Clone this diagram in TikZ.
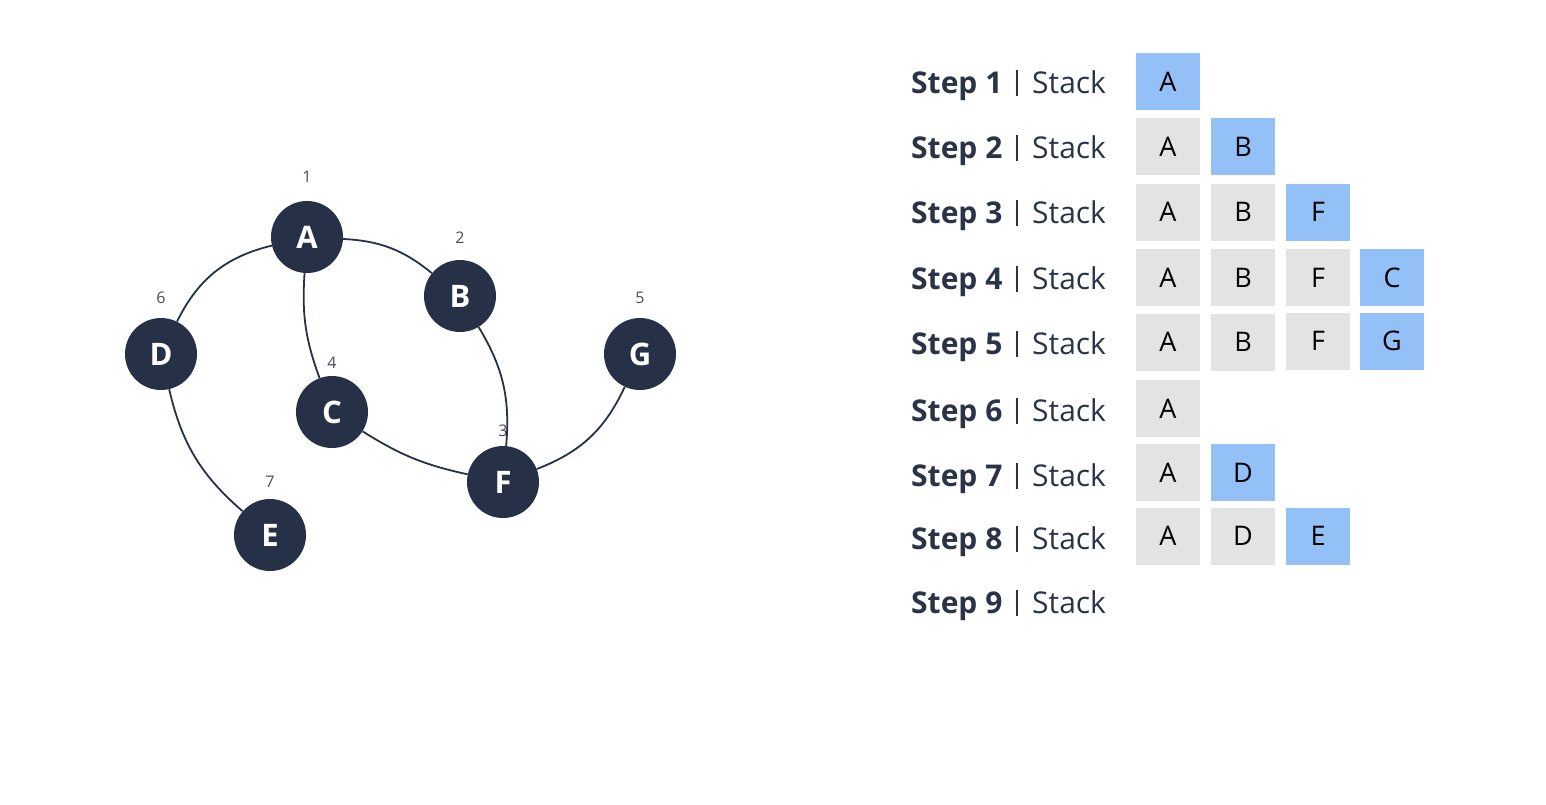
\documentclass[tikz,border=0pt]{standalone}
\usepackage{fontspec}
\setmainfont{Open Sans}
\definecolor{navy}{HTML}{263147}
\definecolor{txt}{HTML}{2B3447}
\definecolor{numc}{HTML}{4A4F5A}
\definecolor{hl}{HTML}{93C0F7}
\definecolor{cell}{HTML}{E3E3E3}
\begin{document}
\begin{tikzpicture}[x=1pt,y=-1pt,
  vert/.style={circle,fill=navy,minimum size=72pt,inner sep=0pt,text=white,font=\fontsize{31}{31}\selectfont\bfseries},
  num/.style={text=numc,font=\fontsize{16}{16}\selectfont,inner sep=0pt},
  edge/.style={draw=navy,line width=1.8pt},
  lab/.style={anchor=base west,text=txt,font=\fontsize{30}{31}\selectfont,inner sep=0pt},
  barline/.style={draw=txt,line width=2.4pt},
  cellbox/.style={minimum width=64pt,minimum height=57pt,inner sep=0pt,fill=cell,font=\fontsize{27}{27}\selectfont,text=black},
  hlbox/.style={cellbox,fill=hl}]
\fill[white] (0,0) rectangle (1546,804);
\useasboundingbox (0,0) rectangle (1546,804);

% graph vertices
\node[vert] (A) at (307,237) {A};
\node[vert] (B) at (460,296) {B};
\node[vert] (D) at (161,354) {D};
\node[vert] (G) at (640,354) {G};
\node[vert] (C) at (332,412) {C};
\node[vert] (F) at (503,482) {F};
\node[vert] (E) at (270,535) {E};

% order numbers
\node[num] (nA) at (307,177) {1};
\node[num] (nB) at (460,238) {2};
\node[num] (nF) at (503,431) {3};
\node[num] (nC) at (332,363) {4};
\node[num] (nG) at (640,298) {5};
\node[num] (nD) at (161,298) {6};
\node[num] (nE) at (270,482) {7};

% edges
\draw[edge] (A) to[bend right=25] (D);
\draw[edge] (A) to[bend right=12] (C);
\draw[edge] (A) to[bend left=18] (B);
\draw[edge] (B) to[bend left=18] (F);
\draw[edge] (C) to[bend right=10] (F);
\draw[edge] (G) to[bend left=22] (F);
\draw[edge] (D) to[bend right=18] (E);

% step labels
\foreach \n/\y in {1/82,2/147,3/212,4/278,5/343,6/410,7/475,8/538,9/602}{
  \node[lab,font=\fontsize{30}{31}\selectfont\bfseries] (step\n) at (911,\y+11) {Step \n};
  \coordinate (bt\n) at (1017,\y-12);
  \coordinate (bb\n) at (1017,\y+14);
  \draw[barline] (bt\n) -- (bb\n);
  \node[lab] (stack\n) at (1032,\y+11) {Stack};
}

% stack cells
\node[hlbox]   (s1a) at (1168,81.5) {A};

\node[cellbox] (s2a) at (1168,146.5) {A};
\node[hlbox]   (s2b) at (1243,146.5) {B};

\node[cellbox] (s3a) at (1168,212) {A};
\node[cellbox] (s3b) at (1243,212) {B};
\node[hlbox]   (s3c) at (1318,212) {F};

\node[cellbox] (s4a) at (1168,277.5) {A};
\node[cellbox] (s4b) at (1243,277.5) {B};
\node[cellbox] (s4c) at (1318,277.5) {F};
\node[hlbox]   (s4d) at (1392,277.5) {C};

\node[cellbox] (s5a) at (1168,342) {A};
\node[cellbox] (s5b) at (1243,342) {B};
\node[cellbox] (s5c) at (1318,341) {F};
\node[hlbox]   (s5d) at (1392,341) {G};

\node[cellbox] (s6a) at (1168,408.5) {A};

\node[cellbox] (s7a) at (1168,472.5) {A};
\node[hlbox]   (s7b) at (1243,472.5) {D};

\node[cellbox] (s8a) at (1168,536) {A};
\node[cellbox] (s8b) at (1243,536) {D};
\node[hlbox]   (s8c) at (1318,536) {E};
\end{tikzpicture}
\end{document}
